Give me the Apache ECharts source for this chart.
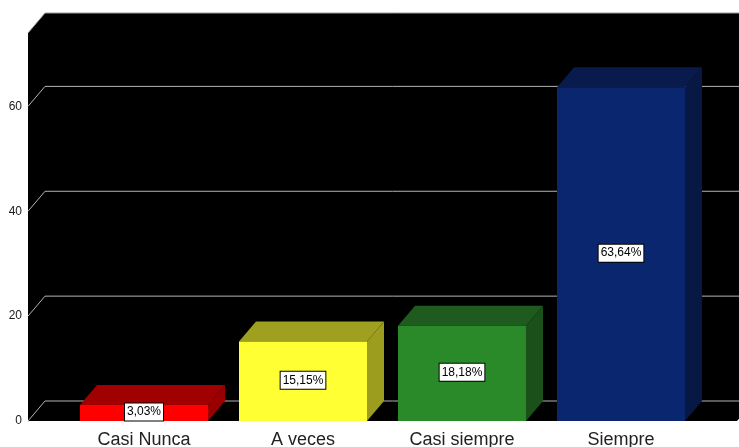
<!DOCTYPE html>
<html>
<head>
<meta charset="utf-8">
<script src="https://cdn.jsdelivr.net/npm/echarts@6/dist/echarts.min.js"></script>
<style>
  html, body { margin: 0; padding: 0; background: #ffffff; }
  #chart { width: 739px; height: 447px; }
</style>
</head>
<body>
<div id="chart"></div>
<script>
// Survey answer frequencies (percent of respondents)
const categories = ['Casi Nunca', 'A veces', 'Casi siempre', 'Siempre'];
const percentages = [3.03, 15.15, 18.18, 63.64];
const yTicks = [0, 20, 40, 60];

// Face shading per bar: front, top, right side
const faceColors = [
  { front: '#ff0000', top: '#a00000', side: '#9a0000' },
  { front: '#ffff33', top: '#a0a020', side: '#9c9c1e' },
  { front: '#2a8a2a', top: '#1f5a1f', side: '#1b501b' },
  { front: '#0a266e', top: '#081b4c', side: '#071845' }
];

// Depth of the 3D box: shift of the back plane relative to the front plane
const DX = 17, DY = 20;
// Extra room between the outer walls and the first/last category band
const WALL_PAD = 36.5;
const GRID_COLOR = '#b4b4b4';

const chart = echarts.init(document.getElementById('chart'));

function pct(v) {
  return v.toFixed(2).replace('.', ',') + '%';
}

// Black box walls plus the value gridlines bent along the left wall
function renderBackdrop(params, api) {
  const cs = params.coordSys;
  const x0 = cs.x - WALL_PAD;
  const x1 = cs.x + cs.width + WALL_PAD;
  const yTop = cs.y;
  const yBot = cs.y + cs.height;
  const children = [{
    type: 'polygon',
    shape: { points: [[x0, yBot], [x0, yTop], [x0 + DX, yTop - DY], [x1 + DX, yTop - DY], [x1 + DX, yBot - DY], [x1, yBot]] },
    style: { fill: '#000000' }
  }];
  yTicks.forEach(function (v) {
    const y = api.coord([0, v])[1];
    children.push({
      type: 'polyline',
      shape: { points: [[x0, y], [x0 + DX, y - DY], [x1 + DX + 40, y - DY]] },
      style: { stroke: GRID_COLOR, lineWidth: 1, fill: null }
    });
  });
  children.push({
    type: 'polyline',
    shape: { points: [[x0, yTop], [x0 + DX, yTop - DY], [x1 + DX + 40, yTop - DY]] },
    style: { stroke: '#9a9a9a', lineWidth: 1, fill: null }
  });
  return { type: 'group', children: children };
}

// One 3D box per category with its percentage tag on the front face
function renderBox(params, api) {
  const idx = api.value(0);
  const val = api.value(1);
  const base = api.coord([idx, 0]);
  const top = api.coord([idx, val]);
  const w = api.size([1, 0])[0] * 0.805;
  const xl = base[0] - w / 2;
  const xr = base[0] + w / 2;
  const c = faceColors[idx];
  return {
    type: 'group',
    children: [
      {
        type: 'polygon',
        shape: { points: [[xr, top[1]], [xr + DX, top[1] - DY], [xr + DX, base[1] - DY], [xr, base[1]]] },
        style: { fill: c.side }
      },
      {
        type: 'polygon',
        shape: { points: [[xl, top[1]], [xl + DX, top[1] - DY], [xr + DX, top[1] - DY], [xr, top[1]]] },
        style: { fill: c.top }
      },
      {
        type: 'rect',
        shape: { x: xl, y: top[1], width: w, height: base[1] - top[1] },
        style: { fill: c.front }
      },
      {
        type: 'text',
        x: base[0],
        y: (top[1] + base[1]) / 2 - 1,
        style: {
          text: pct(val),
          fontFamily: 'Liberation Sans, Arial, sans-serif',
          fontSize: 12,
          fill: '#000000',
          align: 'center',
          verticalAlign: 'middle',
          backgroundColor: '#ffffff',
          borderColor: '#000000',
          borderWidth: 1,
          padding: [3, 2, 2, 2]
        }
      }
    ]
  };
}

chart.setOption({
  animation: false,
  backgroundColor: '#ffffff',
  grid: { left: 64.5, right: 38.5, top: 33, bottom: 26, containLabel: false, outerBoundsMode: 'none' },
  xAxis: {
    type: 'category',
    data: categories,
    boundaryGap: true,
    axisLine: { show: false },
    axisTick: { show: false },
    axisLabel: {
      margin: 10,
      fontFamily: 'Liberation Sans, Arial, sans-serif',
      fontSize: 18,
      color: '#222222'
    }
  },
  yAxis: {
    type: 'value',
    min: 0,
    max: 74,
    interval: 20,
    offset: WALL_PAD,
    axisLine: { show: true, lineStyle: { color: '#9a9a9a', width: 1 } },
    axisTick: { show: false },
    splitLine: { show: false },
    axisLabel: {
      showMaxLabel: false,
      margin: 6,
      fontFamily: 'Liberation Sans, Arial, sans-serif',
      fontSize: 12,
      color: '#1a1a1a'
    }
  },
  series: [
    {
      type: 'custom',
      name: 'walls',
      silent: true,
      z: 1,
      data: [[0, 0]],
      renderItem: renderBackdrop
    },
    {
      type: 'custom',
      name: 'Porcentaje',
      z: 2,
      data: percentages.map(function (v, i) { return [i, v]; }),
      renderItem: renderBox
    }
  ]
});
</script>
</body>
</html>
